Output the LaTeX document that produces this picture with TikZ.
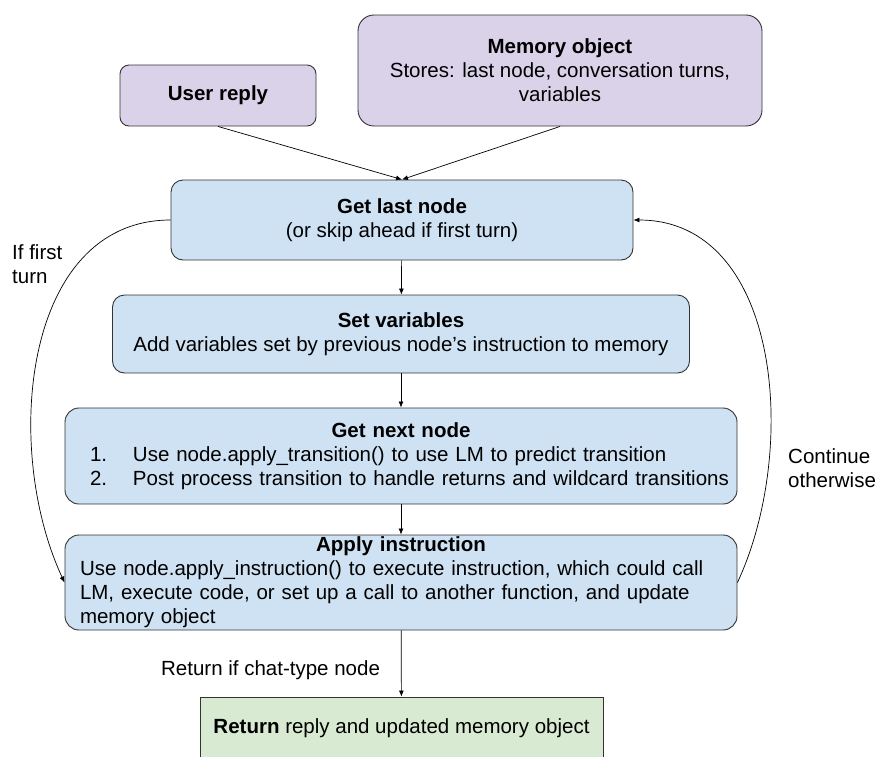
\documentclass[tikz,border=0pt]{standalone}
\usepackage{fontspec}
\setmainfont{Liberation Sans}
\usetikzlibrary{arrows.meta}
\definecolor{inpurple}{HTML}{D9D2E9}
\definecolor{stepblue}{HTML}{CFE2F3}
\definecolor{retgreen}{HTML}{D9EAD3}
\tikzstyle{box} = [draw=black!80, line width=0.9pt, align=center, inner sep=0pt, font=\fontsize{20.5}{24}\selectfont]
\tikzstyle{inbox} = [box, fill=inpurple]
\tikzstyle{stepnode} = [box, fill=stepblue]
\tikzstyle{retbox} = [box, fill=retgreen]
\tikzstyle{lbl} = [align=left, inner sep=0pt, font=\fontsize{20.5}{24}\selectfont]
\tikzstyle{arr} = [-{Latex[length=6pt,width=5pt]}, line width=0.7pt]
\newcommand{\itemno}[1]{\hspace*{19pt}\makebox[43pt][l]{#1}}

\begin{document}
\begin{tikzpicture}[x=1pt, y=-1pt]
  \useasboundingbox (0,0) rectangle (875,756);

  \node[inbox, minimum width=196pt, minimum height=61pt, rounded corners=9pt] (user) at (218,95.5) {\textbf{User reply}};
  \node[inbox, minimum width=404pt, minimum height=111pt, rounded corners=16pt] (mem) at (560,70.5)
    {\textbf{Memory object}\\Stores: last node, conversation turns,\\variables};

  \node[stepnode, minimum width=462pt, minimum height=80pt, rounded corners=12pt] (last) at (402,220)
    {\textbf{Get last node}\\(or skip ahead if first turn)};
  \node[stepnode, minimum width=577pt, minimum height=78pt, rounded corners=12pt] (setvars) at (401,334)
    {\textbf{Set variables}\\Add variables set by previous node’s instruction to memory};
  \node[stepnode, minimum width=672pt, minimum height=96pt, rounded corners=14pt, text width=660pt, align=left] (next) at (401,456)
    {\makebox[\linewidth]{\textbf{Get next node}}\\
     \mbox{\itemno{1.}Use node.apply\_transition() to use LM to predict transition}\\
     \mbox{\itemno{2.}Post process transition to handle returns and wildcard transitions}};
  \node[stepnode, minimum width=672pt, minimum height=95pt, rounded corners=14pt, text width=642pt, align=left] (apply) at (401,582.5)
    {\makebox[\linewidth]{\textbf{Apply instruction}}\\
     \mbox{Use node.apply\_instruction() to execute instruction, which could call}\\
     \mbox{LM, execute code, or set up a call to another function, and update}\\
     memory object};
  \node[retbox, minimum width=403pt, minimum height=62pt] (ret) at (401.5,728) {\textbf{Return} reply and updated memory object};

  \node[lbl, anchor=west] (firstlbl) at (12,264) {If first\\turn};
  \node[lbl, anchor=west] (contlbl) at (788,468) {Continue\\otherwise};

  \draw[arr] (user.south) -- (last.north);
  \draw[arr] (mem.south) -- (last.north);
  \draw[arr] (last) -- (setvars);
  \draw[arr] (setvars) -- (next);
  \draw[arr] (next) -- (apply);
  \draw[arr] (apply) -- node[lbl, pos=0.6, left=21pt] (retlbl) {Return if chat-type node} (ret);

  \draw[arr] (last.west) to[out=180, in=115] (apply.west);
  \draw[arr] (apply.east) to[out=65, in=0] (last.east);
\end{tikzpicture}
\end{document}
